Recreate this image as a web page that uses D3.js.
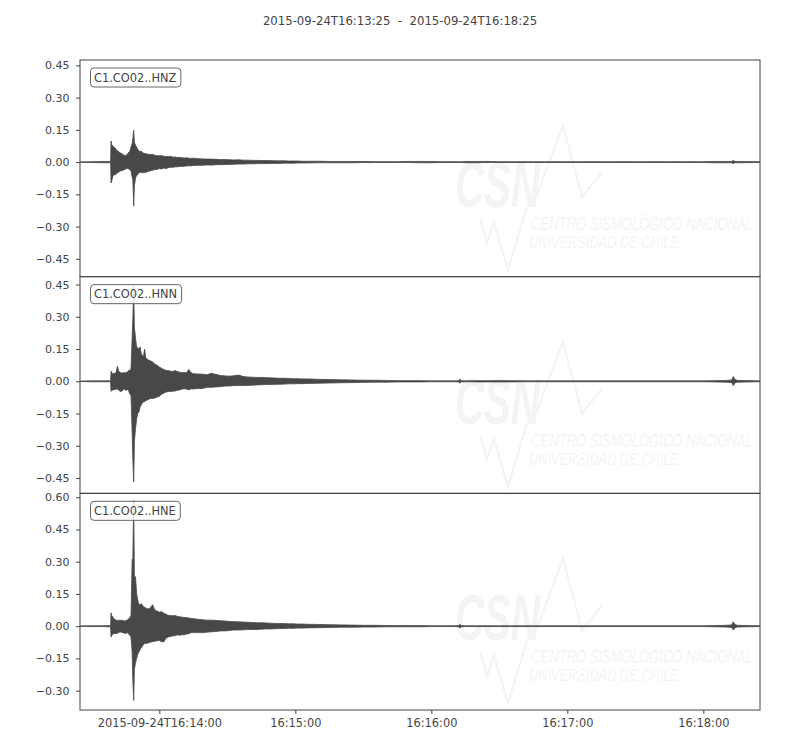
<!DOCTYPE html>
<html>
<head>
<meta charset="utf-8">
<script src="https://cdn.jsdelivr.net/npm/d3@7"></script>
<style>
  body { margin: 0; background: #fff; }
  svg { display: block; font-family: "DejaVu Sans", sans-serif; }
</style>
</head>
<body>
<svg id="chart" width="800" height="750"></svg>
<script>
// ---------------- DATA ----------------
const startTime = "2015-09-24T16:13:25Z";
const endTime = "2015-09-24T16:18:25Z";
const titleText = "2015-09-24T16:13:25  -  2015-09-24T16:18:25";
const channels = ["C1.CO02..HNZ", "C1.CO02..HNN", "C1.CO02..HNE"];
const watermarkLines = ["CENTRO SISMOLÓGICO NACIONAL", "UNIVERSIDAD DE CHILE"];

// seconds after start time at which the trace envelope was read
const seconds = [
  0, 5, 10, 13, 13.5, 13.7, 14, 14.5, 15, 15.5,
  16, 16.5, 17, 17.5, 18, 18.5, 19, 19.5, 20, 20.5,
  21, 21.5, 22, 22.5, 23, 23.3, 23.7, 24, 24.5, 25,
  25.5, 26, 26.5, 27, 27.5, 28, 28.5, 29, 29.5, 30,
  31, 32, 33, 34, 35, 36, 37, 38, 39, 40,
  41, 42, 43, 44, 45, 46, 47, 48, 49, 50,
  52, 54, 56, 58, 60, 62, 64, 66, 68, 70,
  72, 74, 76, 78, 80, 82, 84, 86, 88, 90,
  92, 94, 96, 98, 100, 105, 110, 115, 120, 125,
  130, 135, 140, 145, 150, 155, 160, 165, 167, 167.6,
  168.2, 170, 175, 180, 185, 190, 195, 200, 205, 210,
  215, 220, 225, 230, 235, 240, 245, 250, 255, 260,
  265, 270, 275, 280, 285, 287.5, 288.2, 289, 290, 300
];

const hnzMax = [
  .001, .002, .003, .003, .004, .098, .082, .074, .07, .066,
  .058, .052, .05, .044, .042, .038, .035, .032, .03, .033,
  .038, .046, .05, .07, .085, .11, .148, .092, .078, .07,
  .06, .052, .048, .052, .045, .042, .04, .04, .038, .036,
  .035, .036, .032, .03, .03, .03, .027, .026, .025, .027,
  .023, .024, .021, .022, .02, .019, .02, .018, .017, .018,
  .016, .015, .014, .014, .013, .012, .012, .011, .01, .011,
  .009, .009, .008, .008, .007, .007, .007, .006, .006, .006,
  .005, .005, .005, .004, .004, .004, .003, .003, .003, .003,
  .002, .002, .002, .003, .003, .003, .002, .002, .002, .002,
  .002, .003, .003, .003, .002, .002, .002, .002, .002, .002,
  .002, .002, .002, .002, .002, .002, .002, .002, .002, .002,
  .002, .002, .002, .003, .003, .003, .008, .003, .003, .002
];
const hnzMin = [
  -.001, -.002, -.003, -.003, -.004, -.097, -.088, -.066, -.058, -.06,
  -.055, -.05, -.048, -.042, -.04, -.04, -.038, -.035, -.033, -.03,
  -.03, -.032, -.036, -.042, -.07, -.08, -.205, -.11, -.075, -.06,
  -.058, -.05, -.046, -.05, -.048, -.05, -.047, -.05, -.045, -.044,
  -.04, -.038, -.035, -.034, -.03, -.032, -.028, -.03, -.026, -.024,
  -.024, -.022, -.022, -.02, -.02, -.019, -.018, -.017, -.018, -.016,
  -.015, -.015, -.013, -.014, -.012, -.012, -.011, -.011, -.01, -.009,
  -.009, -.008, -.008, -.007, -.007, -.007, -.006, -.006, -.006, -.005,
  -.005, -.005, -.004, -.004, -.004, -.003, -.003, -.003, -.003, -.002,
  -.002, -.002, -.002, -.002, -.003, -.003, -.002, -.002, -.002, -.002,
  -.002, -.003, -.003, -.002, -.002, -.002, -.002, -.002, -.002, -.002,
  -.002, -.002, -.002, -.002, -.002, -.002, -.002, -.002, -.002, -.002,
  -.002, -.002, -.002, -.003, -.003, -.003, -.006, -.003, -.003, -.002
];

const hnnMax = [
  .001, .002, .002, .002, .003, .047, .04, .034, .038, .035,
  .045, .07, .05, .042, .04, .038, .04, .038, .042, .04,
  .045, .05, .05, .06, .2, .29, .44, .25, .2, .16,
  .155, .15, .16, .13, .12, .115, .15, .11, .105, .1,
  .095, .09, .08, .075, .067, .06, .055, .05, .05, .047,
  .045, .05, .045, .042, .04, .041, .04, .055, .04, .035,
  .034, .033, .03, .037, .032, .027, .025, .024, .026, .029,
  .022, .02, .019, .018, .018, .017, .016, .015, .014, .014,
  .013, .012, .012, .011, .011, .009, .008, .007, .006, .005,
  .005, .004, .003, .003, .003, .002, .002, .002, .003, .01,
  .003, .002, .003, .003, .003, .003, .002, .002, .002, .002,
  .002, .002, .002, .002, .002, .002, .002, .002, .002, .002,
  .002, .002, .002, .003, .004, .006, .022, .008, .004, .002
];
const hnnMin = [
  -.001, -.002, -.002, -.002, -.003, -.047, -.042, -.04, -.038, -.04,
  -.035, -.038, -.04, -.045, -.048, -.045, -.04, -.036, -.04, -.042,
  -.038, -.045, -.06, -.065, -.236, -.36, -.468, -.28, -.22, -.174,
  -.15, -.143, -.12, -.11, -.1, -.096, -.095, -.09, -.088, -.085,
  -.08, -.08, -.078, -.073, -.07, -.06, -.055, -.05, -.048, -.047,
  -.046, -.045, -.042, -.04, -.036, -.035, -.036, -.04, -.035, -.036,
  -.033, -.034, -.028, -.028, -.026, -.025, -.022, -.022, -.02, -.02,
  -.02, -.019, -.018, -.017, -.016, -.015, -.015, -.014, -.014, -.013,
  -.012, -.012, -.011, -.011, -.01, -.009, -.008, -.007, -.006, -.005,
  -.004, -.004, -.003, -.003, -.003, -.002, -.002, -.002, -.003, -.009,
  -.003, -.002, -.003, -.003, -.003, -.003, -.002, -.002, -.002, -.002,
  -.002, -.002, -.002, -.002, -.002, -.002, -.002, -.002, -.002, -.002,
  -.002, -.002, -.002, -.003, -.004, -.006, -.02, -.007, -.004, -.002
];

const hneMax = [
  .001, .002, .002, .003, .003, .062, .05, .042, .035, .03,
  .028, .026, .027, .028, .027, .028, .025, .024, .025, .027,
  .03, .035, .04, .05, .31, .315, .585, .23, .23, .15,
  .12, .1, .1, .105, .1, .09, .088, .085, .082, .08,
  .085, .1, .075, .07, .065, .068, .06, .055, .05, .05,
  .048, .05, .045, .044, .042, .04, .04, .038, .036, .035,
  .032, .03, .028, .028, .027, .025, .024, .022, .021, .02,
  .019, .018, .017, .016, .016, .015, .014, .013, .012, .012,
  .011, .011, .01, .01, .009, .008, .007, .006, .005, .004,
  .004, .003, .003, .003, .003, .002, .002, .002, .003, .008,
  .003, .002, .002, .002, .002, .002, .002, .002, .002, .002,
  .002, .002, .002, .002, .002, .002, .002, .002, .002, .002,
  .002, .002, .002, .003, .004, .006, .02, .007, .004, .002
];
const hneMin = [
  -.001, -.002, -.002, -.003, -.003, -.051, -.045, -.035, -.035, -.035,
  -.034, -.033, -.03, -.028, -.027, -.03, -.03, -.033, -.034, -.032,
  -.03, -.038, -.042, -.05, -.12, -.25, -.345, -.2, -.17, -.15,
  -.13, -.12, -.11, -.1, -.095, -.085, -.08, -.082, -.08, -.078,
  -.075, -.072, -.07, -.068, -.067, -.072, -.073, -.055, -.05, -.048,
  -.045, -.045, -.04, -.042, -.04, -.04, -.037, -.035, -.03, -.03,
  -.03, -.03, -.028, -.026, -.025, -.022, -.022, -.02, -.018, -.018,
  -.017, -.016, -.015, -.015, -.014, -.013, -.013, -.012, -.011, -.011,
  -.01, -.01, -.009, -.009, -.008, -.007, -.006, -.005, -.005, -.004,
  -.004, -.003, -.003, -.003, -.003, -.002, -.002, -.002, -.003, -.008,
  -.003, -.002, -.002, -.002, -.002, -.002, -.002, -.002, -.002, -.002,
  -.002, -.002, -.002, -.002, -.002, -.002, -.002, -.002, -.002, -.002,
  -.002, -.002, -.002, -.003, -.004, -.006, -.018, -.007, -.004, -.002
];

// amplitude axis limits and tick values per panel
const yLimits = [[-0.533, 0.475], [-0.521, 0.4865], [-0.39, 0.618]];
const yTickValues = [
  [-0.45, -0.30, -0.15, 0.00, 0.15, 0.30, 0.45],
  [-0.45, -0.30, -0.15, 0.00, 0.15, 0.30, 0.45],
  [-0.30, -0.15, 0.00, 0.15, 0.30, 0.45, 0.60]
];
const xTickTimes = ["2015-09-24T16:14:00Z", "2015-09-24T16:15:00Z", "2015-09-24T16:16:00Z",
                    "2015-09-24T16:17:00Z", "2015-09-24T16:18:00Z"];
const xTickLabels = ["2015-09-24T16:14:00", "16:15:00", "16:16:00", "16:17:00", "16:18:00"];

// ---------------- DRAWING ----------------
const svg = d3.select("#chart");
const plotLeft = 80, plotRight = 760, plotTop = 60, plotBottom = 710;
const panelH = (plotBottom - plotTop) / 3;
const ink = "#444444";
const traceColor = "#484848";
const wmColor = "#f4f4f4";

const t0 = new Date(startTime), t1 = new Date(endTime);
const x = d3.scaleUtc().domain([t0, t1]).range([plotLeft, plotRight]);
const toDate = s => new Date(t0.getTime() + s * 1000);

const traces = [
  { max: hnzMax, min: hnzMin },
  { max: hnnMax, min: hnnMin },
  { max: hneMax, min: hneMin }
];

svg.append("rect").attr("width", 800).attr("height", 750).attr("fill", "#fff");

svg.append("text")
  .attr("x", 400).attr("y", 25)
  .attr("text-anchor", "middle")
  .attr("font-size", 11.7)
  .attr("fill", ink)
  .style("white-space", "pre")
  .attr("xml:space", "preserve")
  .text(titleText);

const fmt = d3.format(".2f");

// watermark text fitted to a target width, stretched vertically
function fittedText(parent, str, px, py, targetW, capScale) {
  const gg = parent.append("g").attr("transform", `translate(${px},${py})`);
  const t = gg.append("text")
    .attr("font-family", "Liberation Sans, sans-serif")
    .attr("font-style", "italic")
    .attr("font-size", 16)
    .attr("fill", wmColor)
    .text(str);
  const w = t.node().getComputedTextLength();
  const fs = 16 * targetW / w;
  t.attr("font-size", fs);
  gg.attr("transform", `translate(${px},${py}) scale(1,${capScale})`);
  return t;
}

traces.forEach((tr, i) => {
  const y0 = plotTop + i * panelH;
  const y = d3.scaleLinear().domain(yLimits[i]).range([y0 + panelH, y0]);
  const g = svg.append("g");

  g.append("clipPath").attr("id", "clip" + i)
    .append("rect").attr("x", plotLeft).attr("y", y0).attr("width", plotRight - plotLeft).attr("height", panelH);

  // faint watermark (logo) in panel
  const wm = g.append("g")
    .attr("transform", `translate(${plotLeft},${y0})`)
    .attr("fill", wmColor).attr("stroke", wmColor);
  wm.append("text").attr("x", 375).attr("y", 147)
    .attr("font-family", "Liberation Sans, sans-serif")
    .attr("font-size", 64).attr("font-weight", "bold").attr("font-style", "italic")
    .attr("stroke", "none")
    .attr("textLength", 85).attr("lengthAdjust", "spacingAndGlyphs")
    .text("CSN");
  wm.append("polyline").attr("fill", "none").attr("stroke-width", 2.2)
    .attr("points", "455,140 483,65 502,137 522,112");
  wm.append("polyline").attr("fill", "none").attr("stroke-width", 2.2)
    .attr("points", "400,158 407,183 414,162 428,210 447,147");
  fittedText(wm, watermarkLines[0], 451, 170, 222, 1.35).attr("stroke", "none");
  fittedText(wm, watermarkLines[1], 449, 188, 150, 1.35).attr("stroke", "none");

  // waveform envelope
  const pts = seconds.map((s, k) => ({ t: toDate(s), hi: tr.max[k], lo: tr.min[k] }));
  const area = d3.area()
    .x(d => x(d.t))
    .y0(d => y(d.lo))
    .y1(d => y(d.hi));
  g.append("path")
    .datum(pts)
    .attr("clip-path", `url(#clip${i})`)
    .attr("d", area)
    .attr("fill", traceColor)
    .attr("stroke", traceColor)
    .attr("stroke-width", 0.8)
    .attr("stroke-linejoin", "miter");

  // y axis
  const yAxis = d3.axisLeft(y).tickValues(yTickValues[i]).tickFormat(fmt)
    .tickSize(4).tickPadding(6.5);
  const ya = g.append("g").attr("transform", `translate(${plotLeft},0)`).call(yAxis);
  ya.select(".domain").remove();
  ya.selectAll("line").attr("stroke", ink);
  ya.selectAll("text").attr("fill", ink).attr("font-size", 11)
    .attr("font-family", "DejaVu Sans, sans-serif");

  // station label box
  const lb = g.append("g").attr("transform", `translate(${plotLeft + 10},${y0 + 7.5})`);
  const lt = lb.append("text")
    .attr("x", 4).attr("y", 14.3)
    .attr("font-size", 11.4).attr("fill", ink)
    .text(channels[i]);
  const bw = lt.node().getComputedTextLength() + 8;
  lb.insert("rect", "text")
    .attr("x", 0.5).attr("y", 0.5).attr("width", bw).attr("height", 19)
    .attr("rx", 3.5).attr("ry", 3.5)
    .attr("fill", "#fff").attr("fill-opacity", 0.8)
    .attr("stroke", "#666").attr("stroke-width", 1);

  // frame
  g.append("rect")
    .attr("x", plotLeft).attr("y", y0).attr("width", plotRight - plotLeft).attr("height", panelH)
    .attr("fill", "none").attr("stroke", ink).attr("stroke-width", 1);
});

// bottom time axis
const xAxis = d3.axisBottom(x)
  .tickValues(xTickTimes.map(s => new Date(s)))
  .tickFormat((d, k) => xTickLabels[k])
  .tickSize(4).tickPadding(5);
const xa = svg.append("g").attr("transform", `translate(0,${plotBottom})`).call(xAxis);
xa.select(".domain").remove();
xa.selectAll("line").attr("stroke", ink);
xa.selectAll("text").attr("fill", ink).attr("font-size", 11.4)
  .attr("font-family", "DejaVu Sans, sans-serif");
</script>
</body>
</html>
